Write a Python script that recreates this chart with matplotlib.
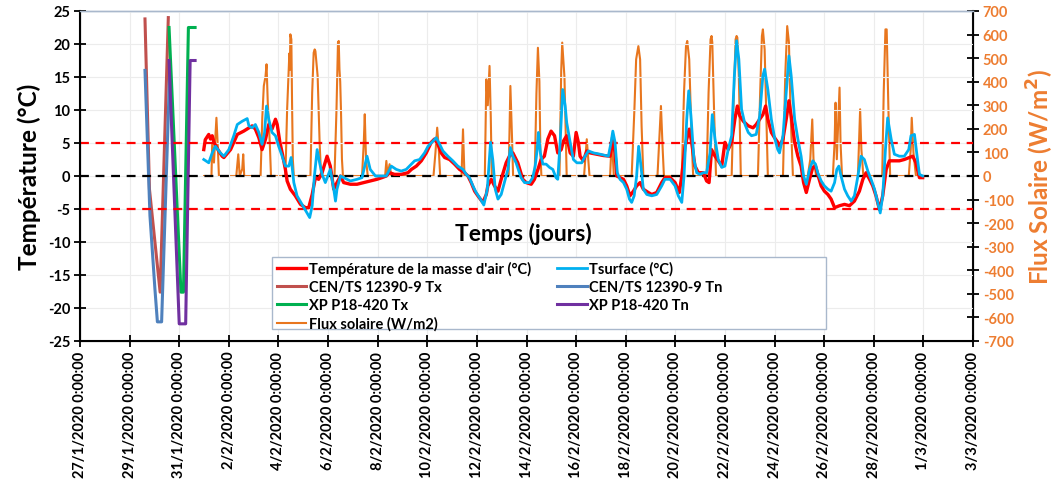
#!/usr/bin/env python
"""
Temperature / solar flux chart: air and surface temperature with freeze-thaw
test cycles (CEN/TS 12390-9, XP P18-420) and solar flux on a secondary axis.
"""

from datetime import datetime, timedelta
import matplotlib
matplotlib.use("Agg")
import matplotlib.pyplot as plt
from matplotlib.patches import Rectangle

# Start of the time axis (day 0)
START_DATE = datetime(2020, 1, 27)

# Air mass temperature (days since 27/1/2020, degC)
AIR_DAYS = [4.99, 5.05, 5.19, 5.26, 5.33, 5.40, 5.56, 5.73, 5.80, 6.07, 6.34, 6.60, 6.81, 6.94,
            7.07, 7.21, 7.34, 7.48, 7.61, 7.74, 7.88, 7.95, 8.05, 8.15, 8.28, 8.35, 8.48, 8.68,
            8.89, 9.09, 9.22, 9.36, 9.49, 9.62, 9.76, 9.96, 10.09, 10.23, 10.36, 10.50, 10.63,
            10.90, 11.17, 11.44, 11.70, 11.97, 12.17, 12.35, 12.48, 12.68, 12.95, 13.22, 13.36,
            13.56, 13.76, 13.96, 14.16, 14.29, 14.43, 14.56, 14.70, 14.90, 15.10, 15.30, 15.50,
            15.64, 15.77, 15.91, 16.04, 16.24, 16.38, 16.44, 16.58, 16.71, 16.85, 16.98, 17.18,
            17.31, 17.45, 17.65, 17.85, 17.99, 18.19, 18.32, 18.46, 18.59, 18.72, 18.86, 18.99,
            19.13, 19.26, 19.40, 19.49, 19.62, 19.76, 19.89, 20.00, 20.09, 20.16, 20.29, 20.43,
            20.56, 20.83, 21.10, 21.37, 21.48, 21.57, 21.64, 21.77, 21.91, 22.04, 22.17, 22.31,
            22.44, 22.58, 22.71, 22.91, 23.05, 23.25, 23.45, 23.58, 23.79, 23.99, 24.16, 24.26,
            24.39, 24.56, 24.66, 24.79, 24.93, 25.13, 25.26, 25.36, 25.46, 25.60, 25.73, 25.87,
            26.00, 26.13, 26.27, 26.40, 26.50, 26.60, 26.74, 26.94, 27.13, 27.26, 27.40, 27.53,
            27.64, 27.73, 27.87, 28.00, 28.13, 28.20, 28.34, 28.47, 28.58, 28.67, 28.81, 28.94,
            29.07, 29.17, 29.28, 29.41, 29.54, 29.65, 29.74, 29.88, 30.01, 30.15, 30.28, 30.42,
            30.62, 30.82, 31.02, 31.22, 31.42, 31.56, 31.69, 31.83, 31.96, 32.09, 32.23, 32.36,
            32.50, 32.63, 32.83, 33.03, 33.23, 33.44, 33.57, 33.70, 33.84, 33.97]
AIR_TEMP = [4.0, 5.5, 6.3, 5.6, 6.1, 5.1, 4.0, 3.0, 2.8, 4.0, 6.3, 6.8, 7.3, 7.6,
            7.1, 5.8, 4.0, 5.6, 7.8, 7.1, 8.6, 7.8, 5.3, 3.5, 1.0, -0.75, -2.0, -3.0,
            -4.3, -4.8, -4.8, -2.8, -0.25, -0.5, 0.5, 3.0, 1.5, -2.0, -1.0, 0.0, -1.0,
            -1.25, -1.25, -1.0, -0.75, -0.5, -0.25, 0.0, 0.5, 0.25, 0.25, 0.5, 1.0,
            1.5, 2.3, 3.5, 5.1, 5.6, 4.8, 3.5, 2.8, 2.5, 1.8, 1.0, 0.5,
            0.0, -1.0, -2.3, -3.0, -4.0, -2.8, -1.5, -0.5, -1.5, -2.3, -0.5, 2.0,
            3.0, 3.5, 2.0, -0.5, -1.0, -1.25, -0.5, 1.0, 2.5, 3.0, 5.6, 6.8,
            6.1, 3.5, 4.0, 5.3, 6.1, 3.5, 3.0, 6.6, 5.1, 3.0, 2.3, 3.8,
            3.5, 3.3, 3.1, 3.0, 5.6, 3.5, 0.0, -0.25, -0.5, -1.5, -3.0, -2.3,
            -1.5, -1.0, -2.0, -2.5, -2.8, -2.5, -1.0, -0.25, -0.25, -1.0, -2.5, 0.0,
            4.5, 7.1, 5.1, 1.5, 0.5, 0.5, -0.75, -1.0, 4.0, 3.0, 2.3, 1.5,
            5.1, 4.0, 5.1, 8.6, 10.6, 9.1, 8.3, 7.6, 7.3, 7.8, 8.6, 9.3,
            10.6, 8.6, 6.6, 5.8, 5.1, 4.5, 5.6, 8.6, 11.4, 9.1, 5.1, 3.0,
            1.5, -1.0, -2.5, -0.5, 1.3, 1.5, 0.25, -1.5, -2.3, -2.8, -3.5, -4.8,
            -4.5, -4.3, -4.5, -3.8, -2.3, -0.5, 0.5, -0.5, -1.5, -3.0, -5.1, -3.0,
            1.0, 2.3, 2.3, 2.3, 2.5, 2.8, 3.0, 2.0, -0.25, -0.25]

# Surface temperature (days, degC)
SURF_DAYS = [4.99, 5.19, 5.33, 5.46, 5.66, 5.80, 6.00, 6.20, 6.34, 6.54, 6.74, 6.81, 6.94, 7.07,
             7.21, 7.34, 7.44, 7.52, 7.61, 7.74, 7.88, 8.01, 8.15, 8.28, 8.42, 8.51, 8.62, 8.75,
             8.95, 9.15, 9.26, 9.36, 9.45, 9.56, 9.66, 9.76, 9.89, 10.09, 10.23, 10.30, 10.36,
             10.50, 10.63, 10.90, 11.17, 11.37, 11.57, 11.70, 11.91, 12.17, 12.35, 12.55, 12.75,
             12.95, 13.15, 13.36, 13.49, 13.69, 13.89, 14.03, 14.23, 14.36, 14.50, 14.63, 14.83,
             15.03, 15.23, 15.44, 15.57, 15.70, 15.84, 15.97, 16.11, 16.28, 16.42, 16.55, 16.64,
             16.74, 16.85, 16.98, 17.11, 17.25, 17.35, 17.45, 17.58, 17.78, 17.92, 18.12, 18.25,
             18.35, 18.43, 18.48, 18.56, 18.66, 18.79, 18.93, 19.06, 19.19, 19.26, 19.355, 19.46,
             19.56, 19.62, 19.76, 19.89, 20.03, 20.23, 20.36, 20.50, 20.70, 20.97, 21.30, 21.41,
             21.48, 21.57, 21.66, 21.77, 21.91, 22.04, 22.15, 22.24, 22.34, 22.44, 22.52, 22.60,
             22.71, 22.85, 23.05, 23.25, 23.45, 23.58, 23.79, 23.99, 24.12, 24.26, 24.35, 24.46,
             24.54, 24.63, 24.75, 24.86, 24.99, 25.13, 25.26, 25.40, 25.49, 25.60, 25.73, 25.87,
             26.00, 26.13, 26.27, 26.38, 26.47, 26.56, 26.67, 26.81, 26.94, 27.07, 27.26, 27.40,
             27.53, 27.60, 27.73, 27.87, 28.00, 28.13, 28.20, 28.34, 28.47, 28.58, 28.67, 28.81,
             28.94, 29.07, 29.17, 29.28, 29.41, 29.54, 29.65, 29.74, 29.88, 30.01, 30.15, 30.28,
             30.42, 30.51, 30.59, 30.68, 30.82, 30.95, 31.09, 31.22, 31.36, 31.49, 31.62, 31.76,
             31.89, 32.03, 32.16, 32.26, 32.36, 32.47, 32.56, 32.70, 32.83, 33.03, 33.23, 33.41,
             33.50, 33.64, 33.73, 33.84, 33.97]
SURF_TEMP = [2.5, 2.0, 3.5, 4.5, 3.5, 3.0, 4.0, 6.1, 7.8, 8.3, 8.7, 7.6, 7.3, 7.8,
             6.6, 4.8, 6.6, 10.6, 8.6, 6.6, 6.1, 4.5, 3.0, 1.5, 1.5, 2.8, -1.0, -3.0,
             -4.3, -5.6, -6.3, -4.5, 0.0, 4.0, 2.0, 0.25, -1.0, 1.0, -2.0, -3.8, -2.0,
             0.0, -0.25, -0.75, -0.5, -0.25, 3.0, 1.0, 0.0, 0.0, 0.0, 1.5, 1.0,
             0.75, 1.0, 1.8, 2.3, 2.5, 3.5, 4.5, 5.3, 5.8, 4.8, 3.8, 3.0,
             2.3, 1.5, 1.0, 0.25, -0.25, -1.5, -2.5, -3.3, -4.4, -2.0, 5.1, 2.5,
             -2.0, -3.5, -2.8, -1.0, 1.0, 4.3, 3.0, 2.0, -0.25, -1.0, -1.0, -0.25,
             1.5, 4.0, 6.6, 3.5, 1.8, 1.8, 1.3, 1.0, -0.25, -0.5, 5.0, 13.1,
             10.6, 8.1, 5.1, 2.5, 2.0, 2.0, 3.0, 3.8, 3.5, 3.3, 3.0, 5.1,
             6.8, 5.1, 0.5, -0.5, -1.0, -2.0, -3.5, -4.0, -3.0, 0.0, 4.5, 2.0,
             -2.0, -2.8, -3.0, -2.8, -1.5, -0.5, -0.5, -1.5, -3.0, -4.0, 0.0, 8.6,
             12.9, 9.1, 2.5, 0.5, 0.25, 0.5, 0.5, 3.5, 9.3, 5.6, 2.5, 1.3,
             1.5, 4.0, 6.1, 15.2, 20.5, 17.7, 10.1, 7.8, 6.6, 6.1, 6.3, 9.1,
             15.2, 16.2, 13.1, 8.6, 5.8, 4.0, 3.5, 6.1, 12.6, 18.2, 15.2, 8.6,
             5.6, 3.0, 0.0, -1.25, 1.0, 2.3, 1.8, 0.5, -0.75, -1.5, -2.0, -2.3,
             -1.0, 1.0, 1.5, 0.0, -2.0, -3.0, -3.8, -3.0, 0.0, 3.0, 2.5, 0.75,
             -0.5, -2.0, -4.0, -5.6, -3.0, 4.0, 8.8, 5.6, 3.3, 3.0, 3.0, 4.0,
             6.1, 6.3, 3.5, 0.25, 0.0]

# Freeze-thaw test cycles (days, degC)
CEN_TX_DAYS = [2.62, 2.80, 3.23, 3.56]
CEN_TX_TEMP = [23.8, -2.0, -17.6, 24.0]
CEN_TN_DAYS = [2.62, 2.82, 3.02, 3.12, 3.29, 3.63]
CEN_TN_TEMP = [16.0, -6.0, -17.1, -22.1, -22.1, 17.5]
XP_TX_DAYS = [3.59, 4.07, 4.17, 4.37, 4.64]
XP_TX_TEMP = [22.5, -17.6, -17.6, 22.5, 22.5]
XP_TN_DAYS = [3.59, 4.00, 4.26, 4.44, 4.64]
XP_TN_TEMP = [17.5, -22.4, -22.4, 17.5, 17.5]

# Solar flux (days, W/m2)
FLUX_DAYS = [5.00, 5.30, 5.33, 5.40, 5.46, 5.50, 5.56, 5.60, 6.30, 6.38, 6.44, 6.54, 6.58, 6.62,
             7.28, 7.35, 7.41, 7.48, 7.52, 7.57, 7.65, 7.70, 8.28, 8.35, 8.40, 8.44, 8.46, 8.48,
             8.52, 8.55, 8.58, 8.62, 9.29, 9.36, 9.42, 9.46, 9.49, 9.58, 9.66, 9.72, 10.26, 10.34,
             10.38, 10.40, 10.43, 10.46, 10.49, 10.52, 10.56, 10.60, 11.37, 11.44, 11.48, 11.53,
             11.60, 12.30, 12.35, 12.40, 12.48, 12.55, 14.25, 14.33, 14.40, 14.46, 14.52, 15.38,
             15.44, 15.50, 16.32, 16.38, 16.44, 16.51, 16.56, 16.60, 17.28, 17.35, 17.42, 17.46,
             18.33, 18.40, 18.46, 18.52, 18.56, 18.60, 19.33, 19.40, 19.44, 19.48, 19.53, 19.56,
             19.62, 20.32, 20.43, 20.54, 21.37, 21.44, 21.52, 22.24, 22.35, 22.42, 22.51, 22.58,
             22.64, 22.71, 23.28, 23.38, 23.42, 23.49, 23.54, 24.26, 24.35, 24.43, 24.48, 24.56,
             24.66, 24.72, 25.26, 25.34, 25.42, 25.46, 25.49, 25.56, 25.64, 26.27, 26.34, 26.43,
             26.47, 26.50, 26.56, 26.64, 27.33, 27.42, 27.49, 27.53, 27.60, 27.66, 27.73, 28.34,
             28.43, 28.51, 28.58, 28.64, 28.74, 29.34, 29.44, 29.52, 29.57, 29.68, 30.35, 30.42,
             30.46, 30.51, 30.56, 30.62, 30.66, 30.72, 31.36, 31.45, 31.50, 31.58, 32.34, 32.40,
             32.47, 32.52, 32.59, 32.66, 33.41, 33.49, 33.53, 33.60, 33.70, 34.00]
FLUX_VALUES = [0, 0, 141, 57, 170, 247, 113, 0, 0, 92, 0, 30, 92, 0,
               0, 250, 382, 424, 474, 311, 141, 0, 0, 283, 420, 520, 450, 601,
               580, 300, 71, 0, 0, 354, 523, 537, 530, 424, 141, 0, 0, 283,
               480, 566, 573, 452, 400, 283, 71, 0, 0, 141, 262, 71,
               0, 0, 64, 0, 50, 0, 0, 100, 205, 120, 0, 0,
               198, 0, 0, 410, 300, 467, 250, 0, 0, 382, 150, 0,
               0, 350, 544, 400, 100, 0, 0, 450, 566, 500, 420, 283,
               0, 0, 156, 0, 0, 163, 0, 0, 283, 495, 551, 495,
               212, 0, 0, 212, 297, 113, 0, 0, 354, 551, 573, 495,
               141, 0, 0, 354, 580, 594, 566, 283, 0, 0, 283, 580,
               594, 587, 424, 0, 0, 354, 594, 622, 537, 283, 0, 0,
               424, 636, 566, 283, 0, 0, 71, 240, 71, 0, 0, 141,
               311, 71, 212, 375, 141, 0, 0, 283, 113, 0, 0, 354,
               622, 622, 283, 0, 0, 113, 247, 99, 0, 0]

# Reference levels (degC)
THRESHOLDS = [5, -5]

FONT = ['Lato', 'DejaVu Sans']
ORANGE = '#ED7D31'
BOX_EDGE = '#A9B8CC'


def make_date_labels(n_days, step):
    """Build the dd/m/yyyy 0:00:00 tick labels for the x axis"""
    labels = []
    for k in range(0, n_days + 1, step):
        d = START_DATE + timedelta(days=k)
        labels.append(f"{d.day}/{d.month}/{d.year} 0:00:00")
    return labels


def create_plot():
    plt.rcParams['font.family'] = FONT
    plt.rcParams['font.weight'] = 'bold'

    fig = plt.figure(figsize=(10.59, 4.81), dpi=100)
    ax = fig.add_axes([80 / 1059, 1 - 342 / 481, 893 / 1059, 330 / 481])
    ax2 = ax.twinx()

    # Primary axis on top so the flux stays behind the temperatures
    ax.set_zorder(ax2.get_zorder() + 1)
    ax.patch.set_visible(False)

    # Solar flux on the secondary axis
    flux_line, = ax2.plot(FLUX_DAYS, FLUX_VALUES, color='#E8761E', lw=1.5)

    # Test cycles
    cen_tx, = ax.plot(CEN_TX_DAYS, CEN_TX_TEMP, color='#C0504D', lw=2.2)
    cen_tn, = ax.plot(CEN_TN_DAYS, CEN_TN_TEMP, color='#4F81BD', lw=2.2)
    xp_tx, = ax.plot(XP_TX_DAYS, XP_TX_TEMP, color='#00B050', lw=2.2)
    xp_tn, = ax.plot(XP_TN_DAYS, XP_TN_TEMP, color='#7030A0', lw=2.2)

    # Measured temperatures
    air_line, = ax.plot(AIR_DAYS, AIR_TEMP, color='#FF0000', lw=2.4, zorder=3)
    surf_line, = ax.plot(SURF_DAYS, SURF_TEMP, color='#00B0F0', lw=2.0, zorder=3)

    # Dashed reference lines
    for t in THRESHOLDS:
        ax.axhline(t, color='#FF0000', lw=1.6, ls=(0, (4, 3)), zorder=2.5)
    ax.axhline(0, color='black', lw=1.6, ls=(0, (4, 3)), zorder=2.5)

    # Axes limits and ticks
    n_days = 36
    ax.set_xlim(0, n_days)
    ax.set_ylim(-25, 25)
    ax2.set_ylim(-700, 700)
    ax.set_xticks(range(0, n_days + 1, 2))
    ax.set_xticklabels(make_date_labels(n_days, 2), rotation=90, fontsize=10.5)
    ax.set_yticks(range(-25, 26, 5))
    ax.set_yticklabels([str(v) for v in range(-25, 26, 5)], fontsize=10.5)
    ax2.set_yticks(range(-700, 701, 100))
    ax2.set_yticklabels([str(v) for v in range(-700, 701, 100)], fontsize=10.5, color=ORANGE)

    ax.tick_params(axis='both', direction='inout', length=8, width=1.3, pad=3)
    ax2.tick_params(axis='y', direction='inout', length=8, width=1.3, pad=3)

    ax.grid(True, color='#ECECEC', lw=0.8, zorder=0)

    for side in ['left', 'bottom']:
        ax.spines[side].set_linewidth(1.5)
    ax2.spines['right'].set_linewidth(1.5)
    for a in (ax, ax2):
        a.spines['top'].set_color(BOX_EDGE)
        a.spines['top'].set_linewidth(1.0)

    # Titles
    ax.set_ylabel('Température (°C)', fontsize=17.5, fontweight='bold', labelpad=5)
    ax2.set_ylabel('Flux Solaire (W/m$^2$)', fontsize=17.5, fontweight='bold',
                   color=ORANGE, labelpad=8)
    ax.text(0.497, 0.326, 'Temps (jours)', transform=ax.transAxes, ha='center',
            va='center', fontsize=16.5, fontweight='bold')

    # Legend box: fixed frame with two equal columns, like the spreadsheet legend
    box = Rectangle((272 / 1059, 1 - 330 / 481), 554 / 1059, 72 / 481,
                    transform=fig.transFigure, facecolor='white', edgecolor=BOX_EDGE,
                    lw=1.0, zorder=4)
    fig.patches.append(box)

    # Column-major order to get the two-column layout
    handles = [air_line, cen_tx, xp_tx, flux_line, surf_line, cen_tn, xp_tn]
    labels = ["Température de la masse d'air (°C)", 'CEN/TS 12390-9 Tx', 'XP P18-420 Tx',
              'Flux solaire (W/m2)', 'Tsurface (°C)', 'CEN/TS 12390-9 Tn', 'XP P18-420 Tn']
    leg = fig.legend(handles, labels, ncol=2, loc='upper left',
                     bbox_to_anchor=(274 / 1059, 1 - 259 / 481),
                     frameon=False, prop={'family': FONT, 'weight': 'bold', 'size': 10.5},
                     handlelength=2.0, handletextpad=0.2, labelspacing=0.28,
                     columnspacing=1.8, borderpad=0.2, borderaxespad=0)
    leg.set_zorder(5)

    fig.savefig('out.png', dpi=100)


if __name__ == "__main__":
    create_plot()
